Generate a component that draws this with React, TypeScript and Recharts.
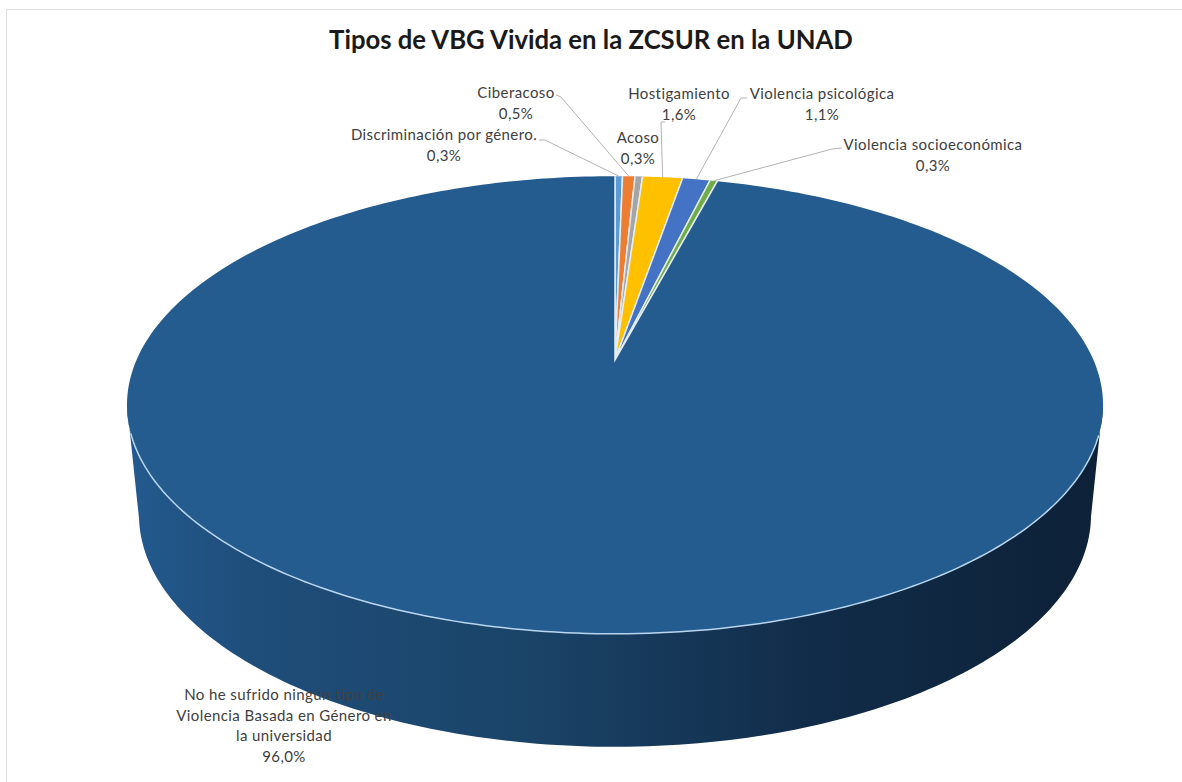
import { Cell, Pie, PieChart } from "recharts";

const categories = [
  "Discriminación por género.",
  "Ciberacoso",
  "Acoso",
  "Hostigamiento",
  "Violencia psicológica",
  "Violencia socioeconómica",
  "No he sufrido ningún tipo de Violencia Basada en Género en la universidad",
];
const values = [0.3, 0.5, 0.3, 1.6, 1.1, 0.3, 96.0];
const valueLabels = ["0,3%", "0,5%", "0,3%", "1,6%", "1,1%", "0,3%", "96,0%"];
const colors = ["#5b9bd5", "#ed7d31", "#a5a5a5", "#ffc000", "#4472c4", "#70ad47", "#255c8f"];

const labelLines = [
  [categories[0]],
  [categories[1]],
  [categories[2]],
  [categories[3]],
  [categories[4]],
  [categories[5]],
  ["No he sufrido ningún tipo de", "Violencia Basada en Género en", "la universidad"],
];

// label layout, in page pixels
const labelCenters = [
  { x: 444, y: 140, lh: 21 },
  { x: 516, y: 98, lh: 21 },
  { x: 638, y: 143, lh: 21 },
  { x: 679, y: 99, lh: 21 },
  { x: 822, y: 99, lh: 21 },
  { x: 933, y: 150, lh: 21 },
  { x: 284, y: 700, lh: 20.5 },
];
const leaderStarts: ({ x: number; y: number; x2: number; y2: number } | null)[] = [
  { x: 539, y: 140, x2: 545, y2: 140 },
  { x: 556, y: 95, x2: 561, y2: 97 },
  null,
  { x: 665, y: 122, x2: 661, y2: 122 },
  { x: 747, y: 98, x2: 741, y2: 98 },
  { x: 842, y: 148, x2: 832, y2: 149 },
  null,
];

const data = categories.map((name, i) => ({ name, value: values[i] }));

// perspective of the pie top: apex is above the middle of the ellipse
const APEX_X = 615;
const APEX_Y = 360;
const MID_Y = 405;
const K = 0.1965;
const A = 478.5;
const B = 220;

function rim(deg: number) {
  const t = ((90 - deg) * Math.PI) / 180;
  const d = 1 + K * Math.cos(t);
  return {
    x: APEX_X + (A * Math.sin(t)) / d,
    y: APEX_Y - (B * Math.cos(t)) / d,
  };
}

// the back half collapses onto the top rim so the side edges run straight
function bottomRim(deg: number) {
  const p = rim(deg);
  if (p.y < MID_Y) return p;
  return {
    x: APEX_X + ((p.x - APEX_X) * 476) / 488,
    y: 515 + ((p.y - MID_Y) * 232) / 229,
  };
}

function sweep(start: number, end: number) {
  const out: number[] = [];
  const dir = end < start ? -1 : 1;
  for (let a = start; (a - end) * dir < 0; a += dir) out.push(a);
  out.push(end);
  return out;
}

function TopSector(props: any) {
  const pts = sweep(props.startAngle, props.endAngle).map(rim);
  const first = pts[0];
  const last = pts[pts.length - 1];
  const d = `M${APEX_X},${APEX_Y} ` + pts.map((p) => `L${p.x},${p.y}`).join(" ") + " Z";
  const front = pts.filter((p) => p.y > 432);
  return (
    <g>
      <path d={d} fill={props.fill} stroke="none" />
      <path
        d={`M${first.x},${first.y} L${APEX_X},${APEX_Y} L${last.x},${last.y}`}
        fill="none"
        stroke="#e4edf5"
        strokeWidth={1.5}
      />
      {front.length > 1 && (
        <polyline
          points={front.map((p) => `${p.x},${p.y}`).join(" ")}
          fill="none"
          stroke="#b9d6ee"
          strokeWidth={1.5}
        />
      )}
    </g>
  );
}

function WallSector(props: any) {
  const angles = sweep(props.startAngle, props.endAngle);
  const top = angles.map(rim);
  const bottom = angles.map(bottomRim).reverse();
  const d = "M" + top.concat(bottom).map((p) => `${p.x},${p.y}`).join(" L") + " Z";
  return <path d={d} fill="url(#wall)" stroke="none" />;
}

function renderLabel(props: any) {
  const i = props.index;
  const c = labelCenters[i];
  const lead = leaderStarts[i];
  const end = rim(props.midAngle);
  const lines = [...labelLines[i], valueLabels[i]];
  return (
    <g key={i}>
      {lead && (
        <polyline
          points={`${lead.x},${lead.y} ${lead.x2},${lead.y2} ${end.x},${end.y}`}
          fill="none"
          stroke="#b3b3b3"
          strokeWidth={1}
        />
      )}
      {lines.map((t, j) => (
        <text
          key={j}
          x={c.x}
          y={c.y + j * c.lh}
          textAnchor="middle"
          fontFamily="Lato, sans-serif"
          fontSize={15}
          letterSpacing={0.4}
          fill="#404040"
        >
          {t}
        </text>
      ))}
    </g>
  );
}

export default function App() {
  return (
    <div style={{ position: "absolute", left: 0, top: 0, width: 1182, height: 782, background: "#fff", overflow: "hidden" }}>
      <div style={{ position: "absolute", left: 6, top: 9, width: 1190, height: 790, border: "1px solid #e0e0e0" }} />
      <div
        style={{
          position: "absolute",
          left: 0,
          top: 24,
          width: 1182,
          textAlign: "center",
          fontFamily: "Lato, sans-serif",
          fontWeight: 700,
          fontSize: 25.7,
          color: "#1a1a1a",
        }}
      >
        Tipos de VBG Vivida en la ZCSUR en la UNAD
      </div>
      <div style={{ position: "absolute", left: 0, top: 0 }}>
        <PieChart width={1182} height={782} margin={{ top: 0, right: 0, bottom: 0, left: 0 }}>
          <defs>
            <linearGradient id="wall" gradientUnits="userSpaceOnUse" x1="127" y1="0" x2="1103" y2="0">
              <stop offset="0%" stopColor="#235a8f" />
              <stop offset="12%" stopColor="#1f4e7b" />
              <stop offset="42%" stopColor="#1a4367" />
              <stop offset="70%" stopColor="#112c49" />
              <stop offset="100%" stopColor="#0d2137" />
            </linearGradient>
          </defs>
          <Pie
            data={data}
            dataKey="value"
            cx={APEX_X}
            cy={APEX_Y}
            outerRadius={300}
            startAngle={90}
            endAngle={-270}
            shape={WallSector}
            label={false}
            labelLine={false}
            isAnimationActive={false}
          />
          <Pie
            data={data}
            dataKey="value"
            nameKey="name"
            cx={APEX_X}
            cy={APEX_Y}
            outerRadius={300}
            startAngle={90}
            endAngle={-270}
            shape={TopSector}
            label={renderLabel}
            labelLine={false}
            isAnimationActive={false}
          >
            {data.map((d, i) => (
              <Cell key={d.name} fill={colors[i]} />
            ))}
          </Pie>
        </PieChart>
      </div>
    </div>
  );
}
